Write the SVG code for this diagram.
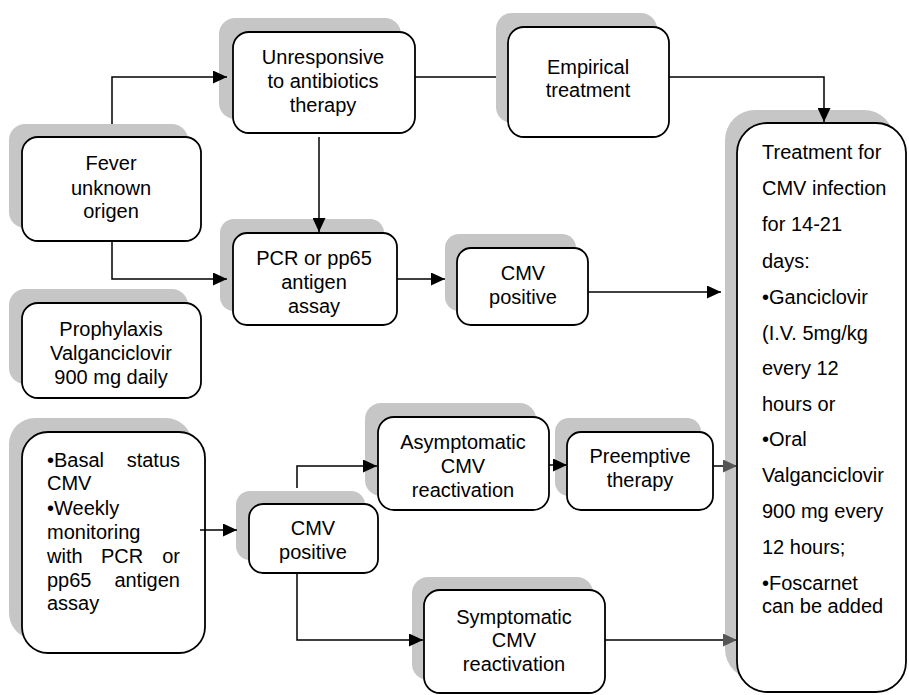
<svg xmlns="http://www.w3.org/2000/svg" width="909" height="695" viewBox="0 0 909 695">
<defs>
<style>
.sh{fill:#c6c6c6;stroke:none}
.bx{fill:#fff;stroke:#000;stroke-width:1.8}
.t{font-family:"Liberation Sans",Arial,sans-serif;font-size:20px;fill:#000}
.c{text-anchor:middle}
.e{text-anchor:end}
.ln{fill:none;stroke:#000;stroke-width:1.5}
</style>
<marker id="ar" markerUnits="userSpaceOnUse" markerWidth="14" markerHeight="13" refX="14" refY="6.5" orient="auto">
<path d="M0,0 L14,6.5 L0,13 z" fill="#000"/>
</marker>
<marker id="ag" markerUnits="userSpaceOnUse" markerWidth="14" markerHeight="13" refX="14" refY="6.5" orient="auto">
<path d="M0,0 L14,6.5 L0,13 z" fill="#555"/>
</marker>
</defs>
<rect width="909" height="695" fill="#fff"/>

<g id="fever">
<rect class="sh" x="9" y="124" width="179" height="104" rx="16"/>
<rect class="bx" x="22" y="137" width="179" height="104" rx="16"/>
<text class="t c" x="111" y="170">Fever</text>
<text class="t c" x="111" y="195">unknown</text>
<text class="t c" x="111" y="218">origen</text>
</g>

<g id="unresponsive">
<rect class="sh" x="219" y="18" width="182" height="101" rx="16"/>
<rect class="bx" x="233" y="32" width="182" height="101" rx="16"/>
<text class="t c" x="323" y="64">Unresponsive</text>
<text class="t c" x="323" y="88">to antibiotics</text>
<text class="t c" x="323" y="112">therapy</text>
</g>

<g id="empirical">
<rect class="sh" x="496" y="13" width="161" height="110" rx="16"/>
<rect class="bx" x="508" y="27" width="161" height="110" rx="16"/>
<text class="t c" x="588" y="74">Empirical</text>
<text class="t c" x="588" y="97">treatment</text>
</g>

<g id="pcr">
<rect class="sh" x="220" y="219" width="164" height="92" rx="14"/>
<rect class="bx" x="233" y="233" width="164" height="92" rx="14"/>
<text class="t c" x="314" y="265">PCR or pp65</text>
<text class="t c" x="314" y="289">antigen</text>
<text class="t c" x="314" y="313">assay</text>
</g>

<g id="cmvpos1">
<rect class="sh" x="445" y="234" width="131" height="77" rx="14"/>
<rect class="bx" x="457" y="248" width="131" height="77" rx="14"/>
<text class="t c" x="523" y="280">CMV</text>
<text class="t c" x="523" y="304">positive</text>
</g>

<g id="prophylaxis">
<rect class="sh" x="9" y="289" width="179" height="95" rx="16"/>
<rect class="bx" x="22" y="303" width="179" height="95" rx="16"/>
<text class="t c" x="111" y="336">Prophylaxis</text>
<text class="t c" x="111" y="360">Valganciclovir</text>
<text class="t c" x="111" y="384">900 mg daily</text>
</g>

<g id="basal">
<rect class="sh" x="9" y="418" width="183" height="221" rx="26"/>
<rect class="bx" x="22" y="432" width="183" height="221" rx="26"/>
<text class="t" x="47" y="467">•Basal</text>
<text class="t e" x="180" y="467">status</text>
<text class="t" x="47" y="490">CMV</text>
<text class="t" x="47" y="515">•Weekly</text>
<text class="t" x="47" y="539">monitoring</text>
<text class="t" x="47" y="563">with</text>
<text class="t" x="101" y="563">PCR</text>
<text class="t e" x="180" y="563">or</text>
<text class="t" x="47" y="587">pp65</text>
<text class="t e" x="180" y="587">antigen</text>
<text class="t" x="47" y="610">assay</text>
</g>

<g id="cmvpos2">
<rect class="sh" x="236" y="491" width="129" height="69" rx="14"/>
<rect class="bx" x="249" y="504" width="129" height="69" rx="14"/>
<text class="t c" x="313" y="535">CMV</text>
<text class="t c" x="313" y="559">positive</text>
</g>

<g id="asymptomatic">
<rect class="sh" x="365" y="403" width="171" height="93" rx="16"/>
<rect class="bx" x="378" y="417" width="171" height="93" rx="16"/>
<text class="t c" x="463" y="449">Asymptomatic</text>
<text class="t c" x="463" y="473">CMV</text>
<text class="t c" x="463" y="497">reactivation</text>
</g>

<g id="preemptive">
<rect class="sh" x="555" y="418" width="146" height="78" rx="14"/>
<rect class="bx" x="567" y="432" width="146" height="78" rx="14"/>
<text class="t c" x="640" y="463">Preemptive</text>
<text class="t c" x="640" y="487">therapy</text>
</g>

<g id="symptomatic">
<rect class="sh" x="412" y="577" width="181" height="103" rx="16"/>
<rect class="bx" x="424" y="590" width="181" height="103" rx="16"/>
<text class="t c" x="514" y="624">Symptomatic</text>
<text class="t c" x="514" y="647">CMV</text>
<text class="t c" x="514" y="671">reactivation</text>
</g>

<g id="treatment">
<rect class="sh" x="725" y="110" width="169" height="569" rx="30"/>
<rect class="bx" x="737" y="123" width="169" height="569" rx="30"/>
<text class="t" x="762" y="159">Treatment for</text>
<text class="t" x="762" y="195">CMV infection</text>
<text class="t" x="762" y="231">for 14-21</text>
<text class="t" x="762" y="268">days:</text>
<text class="t" x="762" y="304">•Ganciclovir</text>
<text class="t" x="762" y="340">(I.V. 5mg/kg</text>
<text class="t" x="762" y="375">every 12</text>
<text class="t" x="762" y="411">hours or</text>
<text class="t" x="762" y="446">•Oral</text>
<text class="t" x="762" y="482">Valganciclovir</text>
<text class="t" x="762" y="518">900 mg every</text>
<text class="t" x="762" y="554">12 hours;</text>
<text class="t" x="762" y="590">•Foscarnet</text>
<text class="t" x="762" y="613">can be added</text>
</g>

<g id="connectors">
<path class="ln" d="M112,124 V77 H227" marker-end="url(#ar)"/>
<path class="ln" d="M112,241 V279 H227" marker-end="url(#ar)"/>
<path class="ln" d="M319,137 V232" marker-end="url(#ar)"/>
<path class="ln" d="M397,279 H445" marker-end="url(#ar)"/>
<path class="ln" d="M415,77 H496"/>
<path class="ln" d="M669,77 H824 V122" marker-end="url(#ar)"/>
<path class="ln" d="M588,292 H721" marker-end="url(#ar)"/>
<path class="ln" d="M200,530 H237" marker-end="url(#ar)"/>
<path class="ln" d="M297,488 V466 H377" marker-end="url(#ar)"/>
<path class="ln" d="M297,573 V640 H423" marker-end="url(#ar)"/>
<path class="ln" d="M549,465 H567" marker-end="url(#ar)"/>
<path class="ln" d="M713,466 H737" stroke="#555" marker-end="url(#ag)"/>
<path class="ln" d="M605,640 H737" stroke="#555" marker-end="url(#ag)"/>
</g>
</svg>
